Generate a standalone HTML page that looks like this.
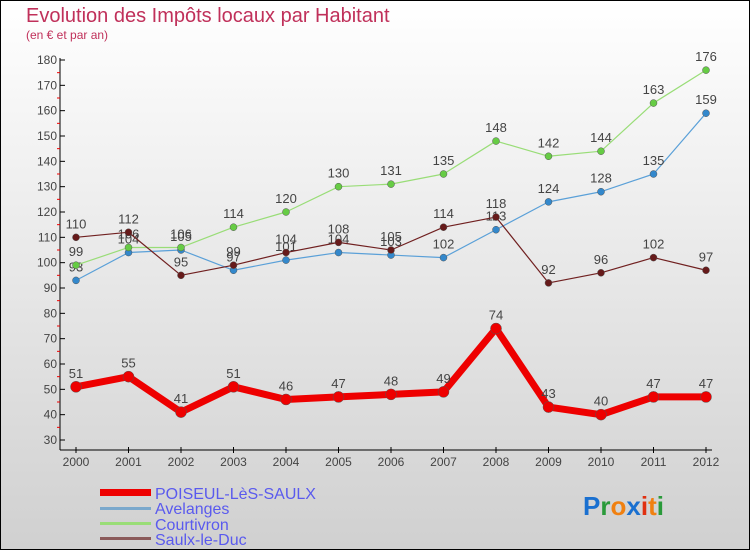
<!DOCTYPE html>
<html><head><meta charset="utf-8"><style>
html,body{margin:0;padding:0;}
body{width:750px;height:550px;overflow:hidden;font-family:"Liberation Sans",sans-serif;}
</style></head><body>
<svg id="chart" width="750" height="550" xmlns="http://www.w3.org/2000/svg">
<defs><linearGradient id="bg" x1="0" y1="0" x2="0" y2="1"><stop offset="0" stop-color="#ffffff"/><stop offset="1" stop-color="#d0d0d0"/></linearGradient></defs>
<rect x="0.5" y="0.5" width="749" height="549" fill="url(#bg)" stroke="#000"/>
<text x="26" y="22" font-size="20" fill="#c0305a">Evolution des Impôts locaux par Habitant</text>
<text x="26" y="39" font-size="12" fill="#c0305a">(en € et par an)</text>
<g id="axes"></g><g id="series"></g>
<g font-size="16" fill="#5a5aee">
<rect x="100" y="489" width="51" height="7" fill="#e00"/>
<text x="155" y="499">POISEUL-LèS-SAULX</text>
<rect x="100" y="507" width="51" height="3" fill="#7aa8cc"/>
<text x="155" y="514">Avelanges</text>
<rect x="100" y="522" width="51" height="3" fill="#99dd77"/>
<text x="155" y="530">Courtivron</text>
<rect x="100" y="537" width="51" height="3" fill="#8a5a5a"/>
<text x="155" y="545">Saulx-le-Duc</text>
</g>
<text x="583" y="515" font-size="26" font-weight="bold"><tspan fill="#1a70d0">P</tspan><tspan fill="#2a9a3a">r</tspan><tspan fill="#f08010">o</tspan><tspan fill="#1a70d0">x</tspan><tspan fill="#e03010">i</tspan><tspan fill="#f08010">t</tspan><tspan fill="#2a9a3a">i</tspan></text>
</svg>
<script>
const years=[2000,2001,2002,2003,2004,2005,2006,2007,2008,2009,2010,2011,2012];
const poiseul=[51,55,41,51,46,47,48,49,74,43,40,47,47];
const avelanges=[93,104,105,97,101,104,103,102,113,124,128,135,159];
const courtivron=[99,106,106,114,120,130,131,135,148,142,144,163,176];
const saulx=[110,112,95,99,104,108,105,114,118,92,96,102,97];
const yTicks=[30,40,50,60,70,80,90,100,110,120,130,140,150,160,170,180];
const NS="http://www.w3.org/2000/svg";
const xS=i=>76+i*52.5;
const yS=v=>440-(v-30)*380/150;
function mk(t,a,p){const e=document.createElementNS(NS,t);for(const k in a)e.setAttribute(k,a[k]);p.appendChild(e);return e;}
const ax=document.getElementById('axes');
const yl=mk('line',{x1:60,y1:58,x2:60,y2:450,stroke:'#000'},ax);


const xl=mk('line',{x1:60,y1:450,x2:712,y2:450,stroke:'#000'},ax);


yTicks.forEach(v=>{const y=yS(v);
 mk('line',{x1:60,y1:y,x2:65,y2:y,stroke:'#000'},ax);
 if(v<180)mk('line',{x1:57,y1:y-12.67,x2:60,y2:y-12.67,stroke:'#e00'},ax);
 const t=mk('text',{x:57,y:y+4,'font-size':12,fill:'#444','text-anchor':'end'},ax);t.textContent=v;
 
 });
years.forEach((yr,i)=>{const x=xS(i);
 mk('line',{x1:x,y1:447,x2:x,y2:453,stroke:'#000'},ax);
 const t=mk('text',{x:x,y:466,'font-size':12,fill:'#444','text-anchor':'middle'},ax);t.textContent=yr;
 
 });
const sg=document.getElementById('series');
function series(name,data,color,w,r,dot){
 const g=mk('g',{},sg);
 
 
 const pts=data.map((v,i)=>xS(i)+','+yS(v)).join(' ');
 mk('polyline',{points:pts,fill:'none',stroke:color,'stroke-width':w,'stroke-linejoin':'round'},g);
 data.forEach((v,i)=>{const c=mk('circle',{cx:xS(i),cy:yS(v),r:r,fill:dot,stroke:'#555','stroke-width':0.5},g);
  
  
  const t=mk('text',{x:xS(i),y:yS(v)-9,'font-size':13,fill:'#444','text-anchor':'middle'},g);t.textContent=v;
  
  });
}
series('avelanges-line',avelanges,'#5aa0d8',1.2,3.5,'#3388cc');
series('courtivron-line',courtivron,'#99dd77',1.2,3.5,'#66cc44');
series('saulx-line',saulx,'#702020',1.2,3.5,'#661a1a');
series('poiseul-line',poiseul,'#ee0000',7,5.5,'#ee0000');
</script>
</body></html>
